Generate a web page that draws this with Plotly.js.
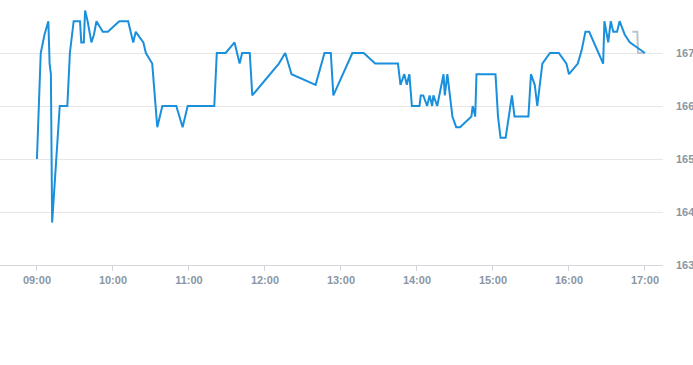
<!DOCTYPE html>
<html>
<head>
<meta charset="utf-8">
<script src="https://cdn.plot.ly/plotly-3.0.1.min.js"></script>
<style>html,body{margin:0;padding:0;background:#fff;}#chart{width:693px;height:365px;}</style>
</head>
<body>
<div id="chart"></div>
<script>
const day = '2024-01-02 ';
const times = ['09:00','09:03','09:06','09:09','09:10','09:11','09:12','09:15','09:18','09:24',
 '09:26','09:29','09:34','09:35','09:37','09:38','09:39','09:40','09:43','09:45',
 '09:47','09:52','09:56','10:05','10:12','10:16','10:18','10:24','10:26','10:31',
 '10:35','10:39','10:50','10:55','10:59','11:20','11:22','11:29','11:36','11:38',
 '11:40','11:42','11:48','11:50','12:11','12:16','12:21','12:40','12:47','12:52',
 '12:54','13:09','13:18','13:27','13:45','13:47','13:50','13:52','13:54','13:56',
 '14:02','14:03','14:05','14:08','14:10','14:12','14:13','14:16','14:21','14:22',
 '14:24','14:28','14:31','14:34','14:43','14:44','14:46','14:47','15:02','15:04',
 '15:06','15:10','15:15','15:17','15:28','15:30','15:33','15:35','15:39','15:45',
 '15:52','15:58','16:00','16:07','16:10','16:13','16:16','16:27','16:28','16:31',
 '16:33','16:35','16:38','16:40','16:43','16:44','16:48','16:53','16:57','17:00'];
const prices = [165.0,167.0,167.35,167.6,166.8,166.6,163.8,165.0,166.0,166.0,
 167.0,167.6,167.6,167.2,167.2,167.8,167.7,167.6,167.2,167.35,
 167.6,167.4,167.4,167.6,167.6,167.2,167.4,167.2,167.0,166.8,
 165.6,166.0,166.0,165.6,166.0,166.0,167.0,167.0,167.2,167.0,
 166.8,167.0,167.0,166.2,166.8,167.0,166.6,166.4,167.0,167.0,
 166.2,167.0,167.0,166.8,166.8,166.4,166.6,166.4,166.6,166.0,
 166.0,166.2,166.2,166.0,166.2,166.0,166.2,166.0,166.6,166.2,
 166.6,165.8,165.6,165.6,165.8,166.0,165.8,166.6,166.6,165.8,
 165.4,165.4,166.2,165.8,165.8,166.6,166.4,166.0,166.8,167.0,
 167.0,166.8,166.6,166.8,167.05,167.4,167.4,166.8,167.6,167.2,
 167.6,167.4,167.4,167.6,167.4,167.35,167.2,167.12,167.05,167.0];
const refTimes = ['16:50','16:54','16:54:30','17:00'];
const refPrices = [167.4,167.4,167.0,167.0];
const hourTicks = ['09:00','10:00','11:00','12:00','13:00','14:00','15:00','16:00','17:00'];
const priceTicks = [163,164,165,166,167];

const traces = [
 {x: refTimes.map(t => day + t), y: refPrices, type: 'scatter', mode: 'lines',
  line: {color: '#b9c5cf', width: 2}, hoverinfo: 'skip', showlegend: false},
 {x: times.map(t => day + t), y: prices, type: 'scatter', mode: 'lines',
  line: {color: '#1a90dc', width: 2}, showlegend: false}
];
const tickFont = {family: 'Liberation Sans, Arial, sans-serif', size: 11, color: '#8a96a3', weight: 'bold'};
const layout = {
 width: 693, height: 365,
 margin: {l: 0, r: 30, t: 0, b: 100},
 paper_bgcolor: '#fff', plot_bgcolor: '#fff',
 showlegend: false,
 xaxis: {type: 'date', range: [day + '08:30:50', day + '17:14:15'],
  tickvals: hourTicks.map(t => day + t), ticktext: hourTicks,
  showgrid: false, zeroline: false, showline: true, linecolor: '#d3d7db', linewidth: 1,
  ticks: 'outside', ticklen: 5, tickcolor: '#d3d7db', tickfont: tickFont},
 yaxis: {range: [163, 168], side: 'right', tickvals: priceTicks, ticktext: priceTicks.map(String),
  showgrid: true, gridcolor: '#e6e6e6', zeroline: false, showline: false, ticks: '',
  ticklabelstandoff: 12, tickfont: tickFont}
};
Plotly.newPlot('chart', traces, layout, {displayModeBar: false, staticPlot: true});
</script>
</body>
</html>
